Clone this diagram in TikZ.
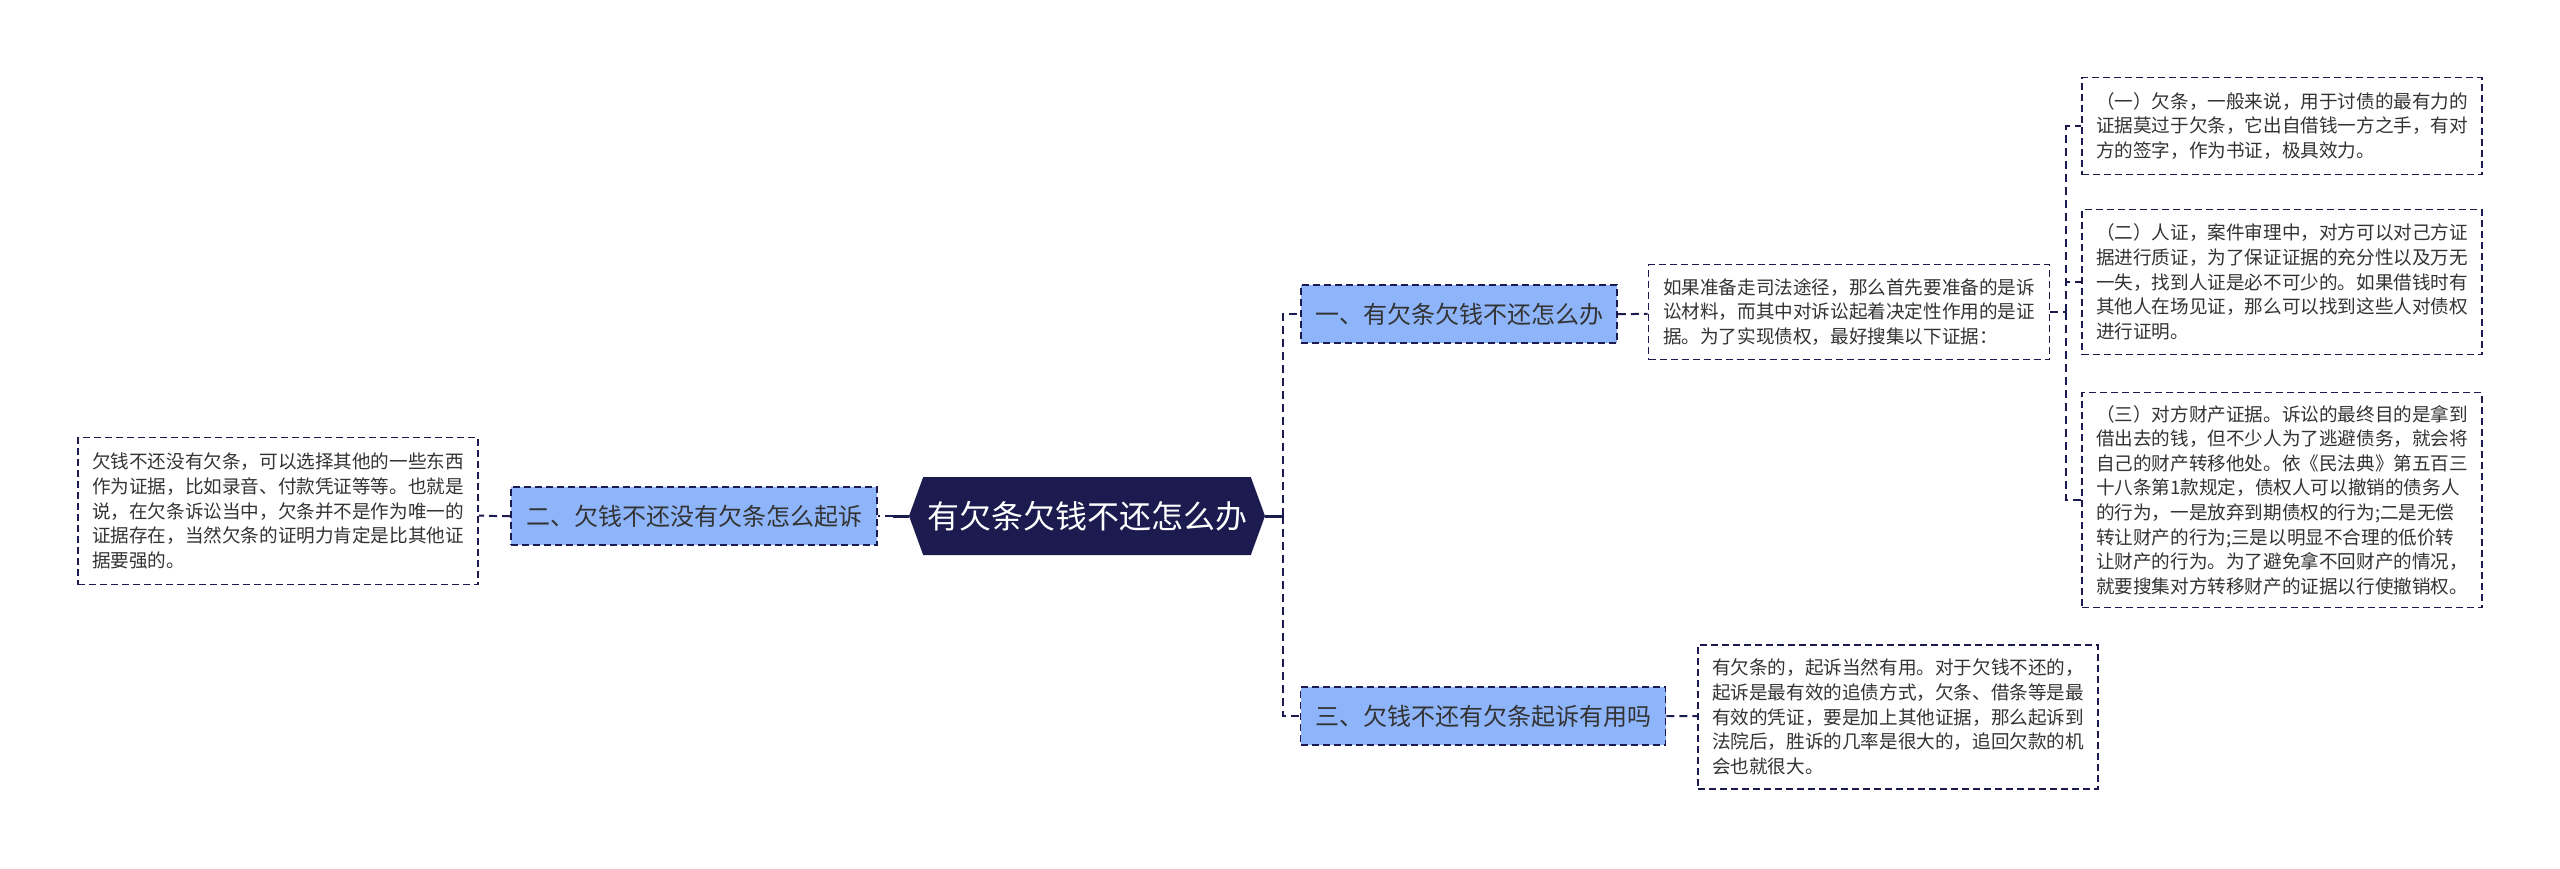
\documentclass[tikz,border=0pt]{standalone}
\usepackage{fontspec}
\setmainfont{Noto Sans CJK SC}
\usetikzlibrary{shapes.symbols}
\definecolor{navy}{RGB}{28,27,80}
\definecolor{branchblue}{RGB}{142,180,250}
\definecolor{inktext}{RGB}{51,51,51}
\tikzset{
  rootnode/.style={signal, signal to=west and east, signal pointer angle=140,
    fill=navy, text=white, font=\fontsize{32}{38}\selectfont,
    minimum width=356pt, minimum height=78pt, inner sep=0pt},
  branchnode/.style={draw=navy, fill=branchblue, dash pattern=on 7pt off 4pt,
    line width=1.8pt, text=inktext, font=\fontsize{24}{29}\selectfont,
    minimum height=58pt, inner sep=0pt},
  leafnode/.style={draw=navy, fill=white, dash pattern=on 7pt off 4pt,
    line width=1.6pt, text=inktext, font=\fontsize{18.6}{24.6}\selectfont,
    align=left, minimum width=400pt, inner sep=0pt},
  solidlink/.style={draw=navy, line width=3pt},
  dashlink/.style={draw=navy, line width=2pt, dash pattern=on 8pt off 5pt},
}
\begin{document}
\begin{tikzpicture}[x=1pt,y=-1pt]
  \useasboundingbox (0,0) rectangle (2560,868);
  \node[rootnode] (root) at (1087,516) {有欠条欠钱不还怎么办};
  \node[branchnode, minimum width=316pt] (b1) at (1459,314) {一、有欠条欠钱不还怎么办};
  \node[branchnode, minimum width=366pt] (b2) at (694,516) {二、欠钱不还没有欠条怎么起诉};
  \node[branchnode, minimum width=365pt] (b3) at (1483,716) {三、欠钱不还有欠条起诉有用吗};
  \node[leafnode, minimum height=147pt] (l2) at (278,511) {欠钱不还没有欠条，可以选择其他的一些东西\\作为证据，比如录音、付款凭证等等。也就是\\说，在欠条诉讼当中，欠条并不是作为唯一的\\证据存在，当然欠条的证明力肯定是比其他证\\据要强的。};
  \node[leafnode, minimum width=401pt, minimum height=95pt] (m1) at (1849,312) {如果准备走司法途径，那么首先要准备的是诉\\讼材料，而其中对诉讼起着决定性作用的是证\\据。为了实现债权，最好搜集以下证据：};
  \node[leafnode, minimum height=97pt] (r1) at (2282,126) {（一）欠条，一般来说，用于讨债的最有力的\\证据莫过于欠条，它出自借钱一方之手，有对\\方的签字，作为书证，极具效力。};
  \node[leafnode, minimum height=145pt] (r2) at (2282,282) {（二）人证，案件审理中，对方可以对己方证\\据进行质证，为了保证证据的充分性以及万无\\一失，找到人证是必不可少的。如果借钱时有\\其他人在场见证，那么可以找到这些人对债权\\进行证明。};
  \node[leafnode, minimum height=215pt] (r3) at (2282,500) {（三）对方财产证据。诉讼的最终目的是拿到\\借出去的钱，但不少人为了逃避债务，就会将\\自己的财产转移他处。依《民法典》第五百三\\十八条第1款规定，债权人可以撤销的债务人\\的行为，一是放弃到期债权的行为;二是无偿\\转让财产的行为;三是以明显不合理的低价转\\让财产的行为。为了避免拿不回财产的情况，\\就要搜集对方转移财产的证据以行使撤销权。};
  \node[leafnode, minimum height=144pt] (m3) at (1898,717) {有欠条的，起诉当然有用。对于欠钱不还的，\\起诉是最有效的追债方式，欠条、借条等是最\\有效的凭证，要是加上其他证据，那么起诉到\\法院后，胜诉的几率是很大的，追回欠款的机\\会也就很大。};
  % junctions
  \coordinate (jr) at (1283,516);
  \coordinate (jl) at (893,516);
  \coordinate (j2) at (495,516);
  \coordinate (j1) at (1633,314);
  \coordinate (jm) at (2066,312);
  \coordinate (j3) at (1682,716);
  \draw[solidlink] (root) -- (jr);
  \draw[dashlink] (jr) |- (b1);
  \draw[dashlink] (jr) |- (b3);
  \draw[solidlink] (root) -- (jl);
  \draw[dashlink] (jl) -- (b2);
  \draw[dashlink] (b2) -- (j2) -- (l2);
  \draw[dashlink] (b1) -- (j1) -- (m1);
  \draw[dashlink] (m1) -- (jm);
  \draw[dashlink] (jm) |- (r1);
  \draw[dashlink] (jm) |- (r2);
  \draw[dashlink] (jm) |- (r3);
  \draw[dashlink] (b3) -- (j3) -- (m3);
\end{tikzpicture}
\end{document}
